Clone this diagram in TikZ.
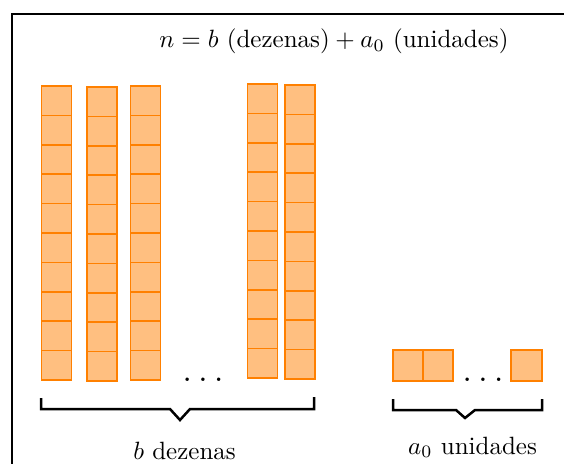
\documentclass[tikz,border=0pt]{standalone}
\usepackage{tikz}
\tikzset{
  cell/.style={draw=orange, fill=orange!50, line width=0.6pt},
  brace/.style={draw=black, line width=1pt, line join=miter},
  frame/.style={draw=black, line width=1pt}
}
\begin{document}
\begin{tikzpicture}[x=0.4pt, y=-0.4pt]
  \clip (0,0) rectangle (564,464);
  \draw[frame] (12,14) rectangle (620,520);
  % tens columns: left x, top y, bottom y
  \foreach \lx/\ty/\by in {41.5/86/380, 87/87/381, 130.5/86/380, 247.5/84/378, 285/85/379}{
    \pgfmathsetmacro{\hh}{(\by-\ty)/10}
    \foreach \k in {0,...,9}{
      \draw[cell] (\lx,{\ty+\k*\hh}) rectangle ({\lx+30},{\ty+(\k+1)*\hh});
    }
  }
  % units
  \draw[cell] (393,350) rectangle (423,381);
  \draw[cell] (423,350) rectangle (453,381);
  \draw[cell] (511,350) rectangle (542,381);
  % dots
  \node[anchor=base, inner sep=0pt] (dotsT) at (203,381) {\Large$\ldots$};
  \node[anchor=base, inner sep=0pt] (dotsU) at (483,381) {\Large$\ldots$};
  % braces
  \draw[brace] (41,398) -- (41,409) -- (170,409) -- (180,420) -- (190,409) -- (314,409) -- (314,397);
  \draw[brace] (393,399) -- (393,410) -- (456,410) -- (465,418) -- (475,410) -- (542,410) -- (542,399);
  % labels
  \node[anchor=base, inner sep=0pt] (title) at (334,48) {$n = b \mbox{ (dezenas)} + a_0 \mbox{ (unidades)}$};
  \node[anchor=base, inner sep=0pt] (lblB) at (184.5,459) {$b$ dezenas};
  \node[anchor=base, inner sep=0pt] (lblA) at (472.5,454) {$a_0$ unidades};
\end{tikzpicture}
\end{document}
